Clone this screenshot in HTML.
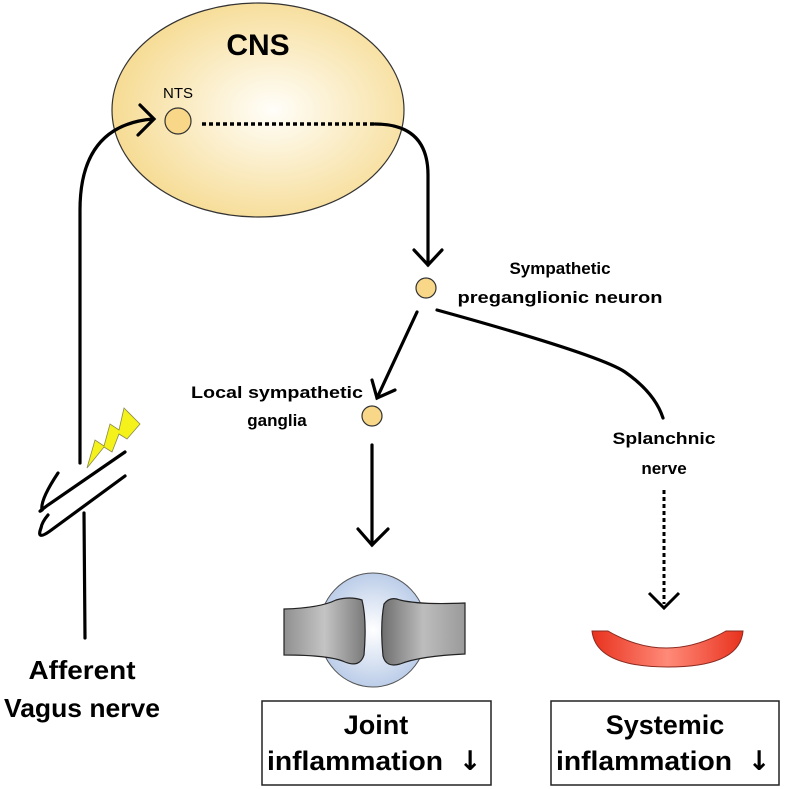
<!DOCTYPE html>
<html><head><meta charset="utf-8"><style>
html,body{margin:0;padding:0;background:#fff;}
svg{display:block;}
text{font-family:"Liberation Sans",sans-serif;font-weight:bold;fill:#000;}
.ar{font-family:"DejaVu Sans",sans-serif;font-weight:bold;}
</style></head><body>
<svg width="787" height="789" viewBox="0 0 787 789" xmlns="http://www.w3.org/2000/svg">
<defs>
<radialGradient id="cns" cx="0.55" cy="0.5" r="0.6">
<stop offset="0" stop-color="#fffef9"/><stop offset="1" stop-color="#f5d88a"/>
</radialGradient>
<radialGradient id="jt" cx="0.5" cy="0.5" r="0.6">
<stop offset="0" stop-color="#ffffff"/><stop offset="1" stop-color="#aec3e4"/>
</radialGradient>
<linearGradient id="bone" x1="0" y1="0" x2="1" y2="0">
<stop offset="0" stop-color="#909090"/><stop offset="0.5" stop-color="#c4c4c4"/><stop offset="1" stop-color="#7a7a7a"/>
</linearGradient>
<linearGradient id="bone2" x1="0" y1="0" x2="1" y2="0">
<stop offset="0" stop-color="#6e6e6e"/><stop offset="0.5" stop-color="#bdbdbd"/><stop offset="1" stop-color="#9a9a9a"/>
</linearGradient>
<linearGradient id="red" x1="0" y1="0" x2="1" y2="0">
<stop offset="0" stop-color="#e8321e"/><stop offset="0.5" stop-color="#ff8a78"/><stop offset="1" stop-color="#e8321e"/>
</linearGradient>
</defs>

<ellipse cx="258" cy="110" rx="146" ry="107" fill="url(#cns)" stroke="#333" stroke-width="1.2"/>
<text x="258" y="55" font-size="30" text-anchor="middle">CNS</text>
<text x="178" y="98" font-size="15" style="font-weight:normal" text-anchor="middle">NTS</text>
<circle cx="178" cy="121" r="13" fill="#f8d888" stroke="#333" stroke-width="1.2"/>
<line x1="202" y1="124" x2="375" y2="124" stroke="#000" stroke-width="3.5" stroke-dasharray="4,3"/>

<g fill="none" stroke="#000" stroke-width="3.2" stroke-linecap="round">
<path d="M80 463 L80 210 Q80 125 153 119"/>
<path d="M140 105 L154 119 L138 135"/>
<path d="M84 513 L85 638"/>
<path d="M375 124 Q428 124 428 175 L428 265"/>
<path d="M414 250 L428 265 L442 250"/>
<path d="M417 312 L377 398"/>
<path d="M372 380 L377 398 L395 390"/>
<path d="M437 310 Q600 355 625 372 Q655 393 663 418"/>
<path d="M372 445 L372 545"/>
<path d="M358 529 L372 545 L388 529"/>
<path d="M125 452 L48 505 Q36 514 42 510 Q40 500 58 473"/>
<path d="M125 476 L50 531 Q36 541 41 528 Q42 522 48 515"/>
</g>
<line x1="664" y1="490" x2="664" y2="604" stroke="#000" stroke-width="3" stroke-dasharray="4,3"/>
<path d="M649 593 L664 608 L679 593" fill="none" stroke="#000" stroke-width="3"/>

<polygon points="87,468 95,440 104,446 110,424 119,430 124,408 140,424 127,439 119,434 112,452 104,447" fill="#f4f21a" stroke="#8a8a4a" stroke-width="0.8"/>

<circle cx="426" cy="288" r="10" fill="#f8d888" stroke="#333" stroke-width="1.2"/>
<circle cx="372" cy="416" r="10" fill="#f8d888" stroke="#333" stroke-width="1.2"/>

<text x="560" y="274" font-size="17" text-anchor="middle">Sympathetic</text>
<text x="560" y="303" font-size="17" text-anchor="middle" textLength="205" lengthAdjust="spacingAndGlyphs">preganglionic neuron</text>
<text x="277" y="398" font-size="17" text-anchor="middle" textLength="172" lengthAdjust="spacingAndGlyphs">Local sympathetic</text>
<text x="277" y="426" font-size="17" text-anchor="middle">ganglia</text>
<text x="664" y="444" font-size="17" text-anchor="middle" textLength="103" lengthAdjust="spacingAndGlyphs">Splanchnic</text>
<text x="664" y="474" font-size="17" text-anchor="middle">nerve</text>
<text x="82" y="679" font-size="26" text-anchor="middle" textLength="107" lengthAdjust="spacingAndGlyphs">Afferent</text>
<text x="82" y="717" font-size="26" text-anchor="middle" textLength="156" lengthAdjust="spacingAndGlyphs">Vagus nerve</text>

<ellipse cx="373" cy="630" rx="54" ry="57" fill="url(#jt)" stroke="#555" stroke-width="1"/>
<path d="M284 609 Q320 608 336 600 Q350 596 362 600 Q367 620 364 655 Q360 668 345 662 Q330 655 284 655 Z" fill="url(#bone)" stroke="#222" stroke-width="1.2"/>
<path d="M465 603 L465 654 Q420 656 400 664 Q386 668 383 656 Q380 625 384 604 Q390 596 400 600 Q420 605 465 603 Z" fill="url(#bone2)" stroke="#222" stroke-width="1.2"/>

<path d="M592 631 L608 631 Q666 665 726 631 L743 631 Q740 667 668 667 Q596 667 592 631 Z" fill="url(#red)" stroke="#8a2a20" stroke-width="1"/>

<rect x="262" y="701" width="229" height="84" fill="none" stroke="#222" stroke-width="1.5"/>
<text x="376" y="734" font-size="27" text-anchor="middle">Joint</text>
<text x="267" y="770" font-size="27" textLength="176" lengthAdjust="spacingAndGlyphs">inflammation</text>
<text x="470" y="770" font-size="27" class="ar" text-anchor="middle">↓</text>
<rect x="551" y="701" width="228" height="84" fill="none" stroke="#222" stroke-width="1.5"/>
<text x="665" y="734" font-size="27" text-anchor="middle">Systemic</text>
<text x="556" y="770" font-size="27" textLength="176" lengthAdjust="spacingAndGlyphs">inflammation</text>
<text x="759" y="770" font-size="27" class="ar" text-anchor="middle">↓</text>
</svg>
</body></html>
